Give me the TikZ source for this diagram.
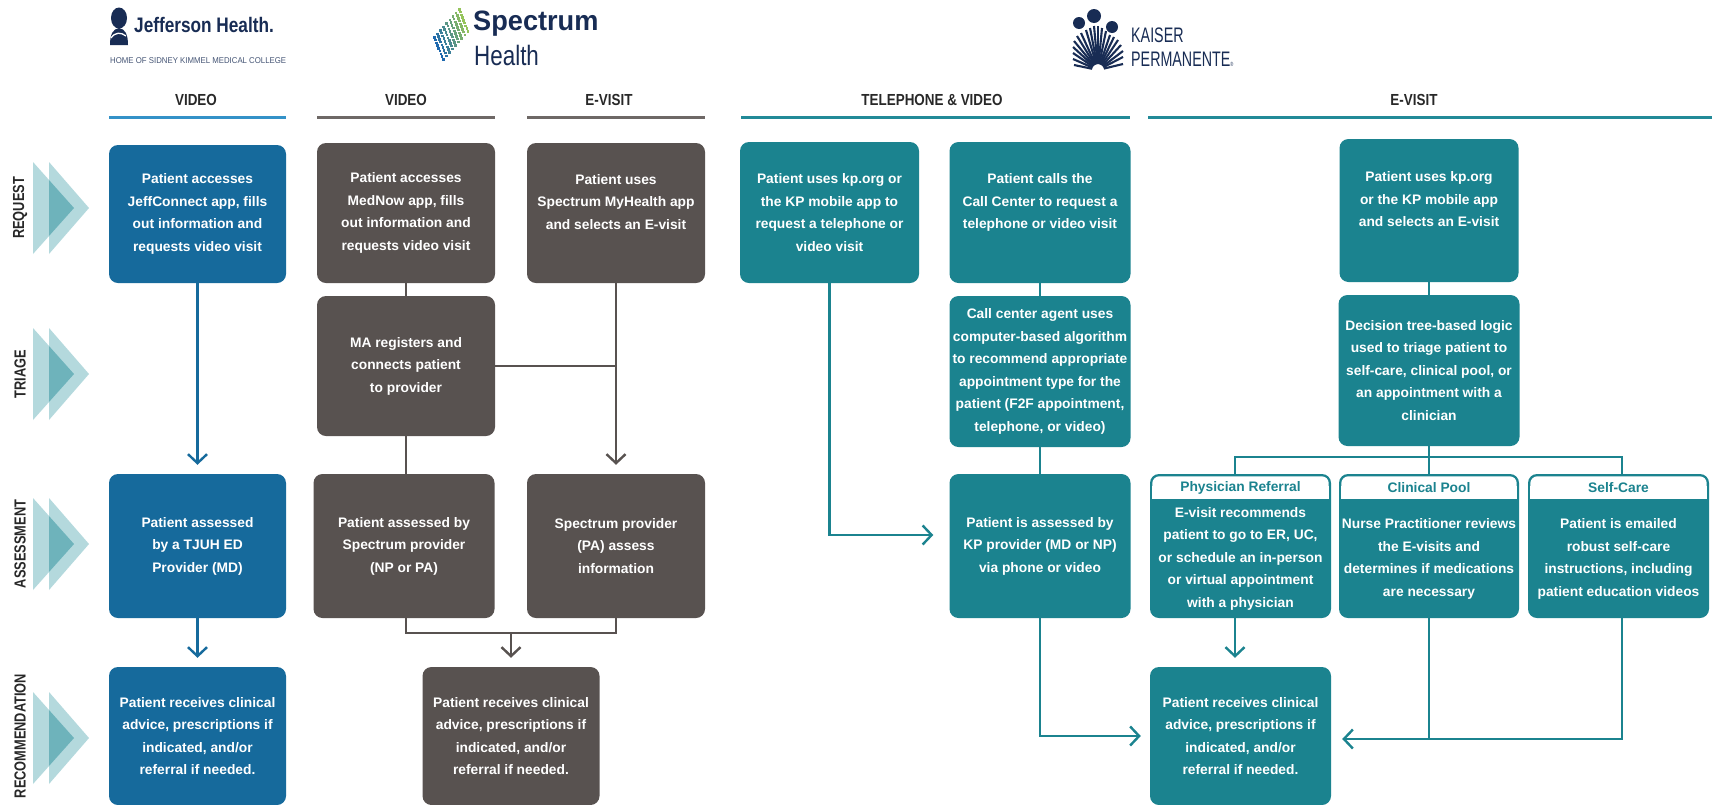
\documentclass[tikz,border=0pt]{standalone}
\usepackage{fontspec}
\setmainfont{Liberation Sans}
\newfontfamily\condfam{Liberation Sans}[FakeStretch=0.84]
\newfontfamily\stagefam{Liberation Sans}[FakeStretch=0.8]
\newfontfamily\kpfam{Liberation Sans}[FakeStretch=0.68]
\newfontfamily\jefffam{Liberation Sans}[FakeStretch=0.82]
\newfontfamily\specfam{Liberation Sans}[FakeStretch=0.97]
\newfontfamily\healthfam{Liberation Sans}[FakeStretch=0.8]
\newfontfamily\subfam{Liberation Sans}[FakeStretch=0.92]
\usetikzlibrary{arrows.meta,calc}
\definecolor{jblue}{RGB}{22,106,156}
\definecolor{jlinec}{RGB}{52,146,200}
\definecolor{sgray}{RGB}{88,82,80}
\definecolor{slinec}{RGB}{110,104,102}
\definecolor{kteal}{RGB}{27,131,143}
\definecolor{klinec}{RGB}{34,138,152}
\definecolor{chevl}{RGB}{180,217,221}
\definecolor{chevd}{RGB}{110,179,187}
\definecolor{navy}{RGB}{24,44,84}
\definecolor{hdrc}{RGB}{40,40,40}
\definecolor{specblue}{RGB}{30,105,175}
\definecolor{specgreen}{RGB}{165,208,80}
\newcommand\bxfont{\fontsize{13.8}{22.5}\selectfont\bfseries}
\tikzset{
  box/.style={rounded corners=9pt, inner sep=0pt, align=center, text=white, font=\bxfont},
  sz/.style 2 args={minimum width=#1pt, minimum height=#2pt},
  jbox/.style={box, fill=jblue},
  sbox/.style={box, fill=sgray},
  kbox/.style={box, fill=kteal},
  conn/.style={line width=2.6pt, line join=miter},
  tipped/.style={-{Straight Barb[length=9pt,width=19pt,line width=2.4pt]}, shorten >=9pt},
  jline/.style={conn, draw=jblue},
  sline/.style={conn, draw=sgray},
  kline/.style={conn, draw=kteal},
  jarr/.style={jline, tipped},
  sarr/.style={sline, tipped},
  karr/.style={kline, tipped},
  hdr/.style={font=\condfam\bfseries\fontsize{16}{18}\selectfont, text=hdrc, inner sep=0pt},
  rule/.style={line width=3pt},
  stagelbl/.style={font=\stagefam\bfseries\fontsize{16}{18}\selectfont, text=hdrc, rotate=90, inner sep=0pt},
  ttl/.style={font=\bxfont, text=kteal, inner sep=0pt},
  bodyt/.style={font=\bxfont, text=white, align=center, inner sep=0pt},
}
\begin{document}
\begin{tikzpicture}[x=1pt,y=-1pt]
\useasboundingbox (0,0) rectangle (1712,804);
\clip (0,0) rectangle (1712,804);
\fill[white] (0,0) rectangle (1712,804);

% ---------- logos ----------
% Jefferson
\fill[navy] (119,18) ellipse [x radius=8pt, y radius=10.5pt];
\fill[navy] (110,45) .. controls (110,34) and (113,29) .. (119,28) .. controls (125,29) and (128,34) .. (128,45) -- cycle;
\draw[white, line width=1.3pt] (111,38) .. controls (115,32) and (121,32) .. (126,36);
\node[anchor=west, inner sep=0pt, text=navy, font=\jefffam\bfseries\fontsize{21}{24}\selectfont] (jeffname) at (134,25) {Jefferson Health.};
\node[anchor=west, inner sep=0pt, text=navy!80, font=\subfam\fontsize{8.5}{10}\selectfont] (jeffsub) at (110,61) {HOME OF SIDNEY KIMMEL MEDICAL COLLEGE};
% Spectrum
\foreach \i in {0,...,8} {
  \foreach \j in {0,...,8} {
    \pgfmathtruncatemacro\m{100-\i*11}
    \fill[specblue!\m!specgreen] ({433+\i*3.1+\j*1.1},{36-\i*3.5+\j*2.75}) rectangle ++(2.7,2.7);
  }
}
\node[anchor=west, inner sep=0pt, text=navy, font=\specfam\bfseries\fontsize{28}{30}\selectfont] (specname) at (473,24) {Spectrum};
\node[anchor=west, inner sep=0pt, text=navy, font=\healthfam\fontsize{28}{30}\selectfont] (spechealth) at (474,55) {Health};
% Kaiser
\coordinate (kc) at (1098,70);
\foreach \px/\py in {1074/65,1073/59,1073/53,1073/47,1074/41,1077/36,1081/33,1086/30,1090/28,1094/26,1098/26,1102/28,1106/31,1110/35,1114/37,1118/40,1121/45,1123/51,1123/57,1123/64}
  \draw[navy, line width=2.1pt] ($(kc)!6pt!(\px,\py)$) -- (\px,\py);
\fill[navy] (1079,23) circle (6pt);
\fill[navy] (1094,16) circle (7pt);
\fill[navy] (1112,27) circle (6pt);
\node[anchor=west, inner sep=0pt, text=navy, font=\kpfam\fontsize{21}{23}\selectfont] (kaiser1) at (1131,35) {KAISER};
\node[anchor=west, inner sep=0pt, text=navy, font=\kpfam\fontsize{21}{23}\selectfont] (kaiser2) at (1131,59) {PERMANENTE\raisebox{0pt}{\fontsize{6}{6}\selectfont ®}};

% ---------- headers ----------
\node[hdr] (hj) at (196,100) {VIDEO};
\draw[rule, draw=jlinec] (109,117) -- (286,117);
\node[hdr] (hsv) at (406,100) {VIDEO};
\draw[rule, draw=slinec] (317,117) -- (495,117);
\node[hdr] (hse) at (609,100) {E-VISIT};
\draw[rule, draw=slinec] (527,117) -- (705,117);
\node[hdr] (hkt) at (932,100) {TELEPHONE \& VIDEO};
\draw[rule, draw=klinec] (741,117) -- (1130,117);
\node[hdr] (hke) at (1414,100) {E-VISIT};
\draw[rule, draw=klinec] (1148,117) -- (1712,117);

% ---------- stage markers ----------
\foreach \yc in {208,374,544,738} {
  \fill[chevl] (33,{\yc-46}) -- (33,{\yc+46}) -- (74,\yc) -- cycle;
  \fill[chevl] (49,{\yc-46}) -- (49,{\yc+46}) -- (89,\yc) -- cycle;
  \fill[chevd] (49,{\yc-28}) -- (49,{\yc+28}) -- (74,\yc) -- cycle;
}
\node[stagelbl] (lreq) at (20,208) {REQUEST};
\node[stagelbl] (ltri) at (20,374) {TRIAGE};
\node[stagelbl] (lass) at (20,544) {ASSESSMENT};
\node[stagelbl] (lrec) at (20,736) {RECOMMENDATION};

% ---------- Jefferson ----------
\node[jbox, sz={177}{138}] (J1) at (197.5,214) {Patient accesses\\JeffConnect app, fills\\out information and\\requests video visit};
\node[jbox, sz={177}{144}] (J2) at (197.5,546) {Patient assessed\\by a TJUH ED\\Provider (MD)};
\node[jbox, sz={177}{138}] (J3) at (197.5,736) {Patient receives clinical\\advice, prescriptions if\\indicated, and/or\\referral if needed.};
\draw[jarr] (J1.south) -- (J2.north);
\draw[jarr] (J2.south) -- (J3.north);

% ---------- Spectrum ----------
\node[sbox, sz={178}{140}] (S1) at (406,213) {Patient accesses\\MedNow app, fills\\out information and\\requests video visit};
\node[sbox, sz={178}{140}] (S2) at (616,213) {Patient uses\\Spectrum MyHealth app\\and selects an E-visit\\\mbox{}};
\node[sbox, sz={178}{140}] (S3) at (406,366) {MA registers and\\connects patient\\to provider};
\node[sbox, sz={181}{144}] (S4) at (404,546) {Patient assessed by\\Spectrum provider\\(NP or PA)};
\node[sbox, sz={178}{144}] (S5) at (616,546) {Spectrum provider\\(PA) assess\\information};
\node[sbox, sz={177}{138}] (S6) at (511,736) {Patient receives clinical\\advice, prescriptions if\\indicated, and/or\\referral if needed.};
\draw[sline] (S1.south) -- (S3.north);
\draw[sline] (S3.east) -- (S3.east -| S2.south);
\draw[sarr] (S2.south) -- (S5.north);
\draw[sline] (S3.south) -- (S3.south |- S4.north);
\coordinate (sj) at (511,633);
\draw[sline] (S3.south |- S4.south) -- (S3.south |- sj) -- (S5.south |- sj) -- (S5.south);
\draw[sarr] (sj) -- (S6.north);

% ---------- Kaiser telephone & video ----------
\node[kbox, sz={179}{141}] (K1) at (829.5,212.5) {Patient uses kp.org or\\the KP mobile app to\\request a telephone or\\video visit};
\node[kbox, sz={181}{141}] (K2) at (1040,212.5) {Patient calls the\\Call Center to request a\\telephone or video visit\\\mbox{}};
\node[kbox, sz={181}{151}] (K3) at (1040,371.5) {Call center agent uses\\computer-based algorithm\\to recommend appropriate\\appointment type for the\\patient (F2F appointment,\\telephone, or video)};
\node[kbox, sz={181}{144}] (K4) at (1040,546) {Patient is assessed by\\KP provider (MD or NP)\\via phone or video};
\draw[karr, shorten >=16pt] (K1.south) |- ([yshift=11pt]K4.west);
\draw[kline] (K2.south) -- (K3.north);
\draw[kline] (K3.south) -- (K4.north);

% ---------- Kaiser e-visit ----------
\node[kbox, sz={179}{143}] (K5) at (1429,210.5) {Patient uses kp.org\\or the KP mobile app\\and selects an E-visit\\\mbox{}};
\node[kbox, sz={181}{151}] (K6) at (1429,370.5) {Decision tree-based logic\\used to triage patient to\\self-care, clinical pool, or\\an appointment with a\\clinician};
\node[kbox, sz={181}{144}] (K7a) at (1240.5,546) {};
\node[kbox, sz={180}{144}] (K7b) at (1429,546) {};
\node[kbox, sz={181}{144}] (K7c) at (1618.5,546) {};
\node[kbox, sz={181}{138}] (K8) at (1240.5,736) {Patient receives clinical\\advice, prescriptions if\\indicated, and/or\\referral if needed.};
\foreach \b in {K7a,K7b,K7c} {
  \fill[white, rounded corners=7pt] ($(\b.north west)+(2.5,2.5)$) rectangle ($(\b.north east)+(-2.5,25)$);
  \fill[white] ($(\b.north west)+(2.5,12)$) rectangle ($(\b.north east)+(-2.5,25)$);
}
\node[ttl] (K7aT) at ($(K7a.north)+(0,14)$) {Physician Referral};
\node[ttl] (K7bT) at ($(K7b.north)+(0,14)$) {Clinical Pool};
\node[ttl] (K7cT) at ($(K7c.north)+(0,14)$) {Self-Care};
\node[bodyt] (K7aB) at ($(K7a.north)+(0,85)$) {E-visit recommends\\patient to go to ER, UC,\\or schedule an in-person\\or virtual appointment\\with a physician};
\node[bodyt] (K7bB) at ($(K7b.north)+(0,85)$) {Nurse Practitioner reviews\\the E-visits and\\determines if medications\\are necessary};
\node[bodyt] (K7cB) at ($(K7c.north)+(0,85)$) {Patient is emailed\\robust self-care\\instructions, including\\patient education videos};

\draw[karr] (K4.south) |- (K8.west);
\draw[kline] (K5.south) -- (K6.north);
\coordinate (kbl) at (1235,457);
\coordinate (kbr) at (1622,457);
\draw[kline] (K6.south) -- (K6.south |- K7b.north);
\draw[kline] (kbl |- K7a.north) -- (kbl) -- (kbr) -- (kbr |- K7c.north);
\draw[karr] (kbl |- K7a.south) -- (kbl |- K8.north);
\coordinate (kr) at (1429,739);
\draw[kline] (K7b.south) -- (kr);
\draw[karr, shorten >=11pt] (kbr |- K7c.south) |- (K8.east |- kr);
\end{tikzpicture}
\end{document}
